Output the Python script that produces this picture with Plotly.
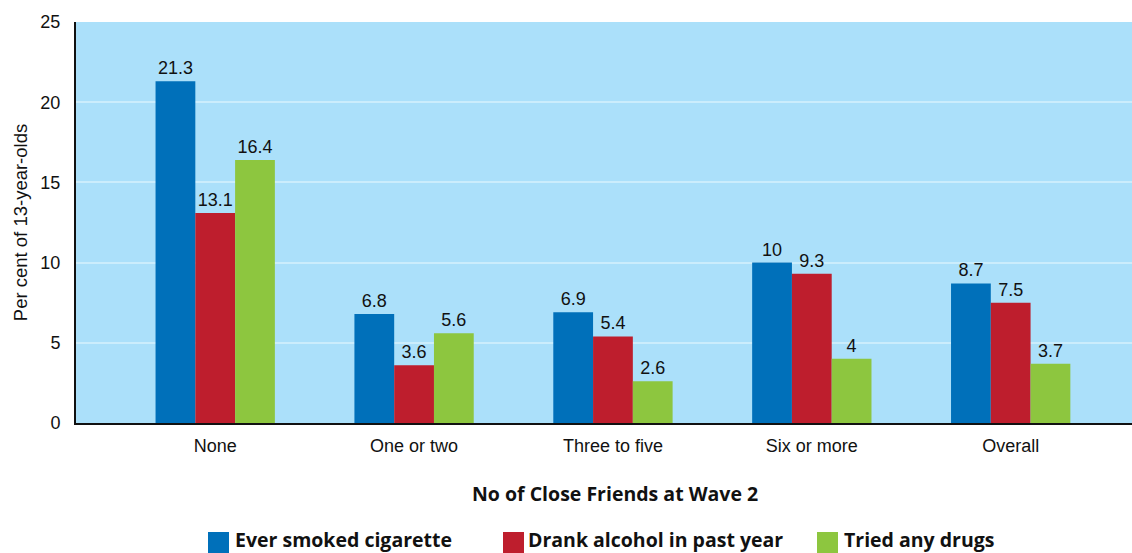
import plotly.graph_objects as go

categories = ["None", "One or two", "Three to five", "Six or more", "Overall"]
smoked = [21.3, 6.8, 6.9, 10, 8.7]
alcohol = [13.1, 3.6, 5.4, 9.3, 7.5]
drugs = [16.4, 5.6, 2.6, 4, 3.7]
series_names = ["Ever smoked cigarette", "Drank alcohol in past year", "Tried any drugs"]
colors = ["#0070BA", "#BE1E2D", "#8DC63F"]
y_ticks = [0, 5, 10, 15, 20, 25]

fig = go.Figure()
for name, vals, col in zip(series_names, [smoked, alcohol, drugs], colors):
    fig.add_trace(go.Bar(
        x=categories, y=vals, name=name,
        marker=dict(color=col, line=dict(width=0)),
        text=[str(v) for v in vals], textposition="outside",
        textfont=dict(family="Liberation Sans, Arial, sans-serif", size=18, color="#111111"),
        cliponaxis=False, showlegend=False,
    ))

W, H = 1132, 553
L, R, T, B = 76, 0, 22, 130
pw, ph = W - L - R, H - T - B

def px(xp):
    return (xp - L) / pw

def py(yp):
    return (H - B - yp) / ph

shapes = []
annotations = []
legend_items = [(208, 229, 234), (503, 524, 527), (817, 838, 843)]
for (x0, x1, tx), name, col in zip(legend_items, series_names, colors):
    shapes.append(dict(type="rect", xref="paper", yref="paper",
                       x0=px(x0), x1=px(x1), y0=py(553), y1=py(532),
                       fillcolor=col, line=dict(width=0)))
    annotations.append(dict(text="<b>" + name + "</b>", xref="paper", yref="paper",
                            x=px(tx), y=py(554), xanchor="left", yanchor="bottom",
                            showarrow=False, borderpad=0,
                            font=dict(family="Open Sans, sans-serif", size=19.5, color="#111111")))

annotations.append(dict(text="<b>No of Close Friends at Wave 2</b>", xref="paper", yref="paper",
                        x=px(615), y=py(493), xanchor="center", yanchor="middle",
                        showarrow=False,
                        font=dict(family="Open Sans, sans-serif", size=19.5, color="#111111")))

fig.update_layout(
    width=W, height=H,
    margin=dict(l=L, r=R, t=T, b=B),
    paper_bgcolor="white", plot_bgcolor="#ABE0FA",
    barmode="group", bargap=0.4, bargroupgap=0,
    shapes=shapes, annotations=annotations,
    showlegend=False,
    font=dict(family="Liberation Sans, Arial, sans-serif", color="#111111"),
)
fig.update_xaxes(
    range=[-0.7, 4.61], showgrid=False,
    showline=True, linecolor="#111111", linewidth=2,
    ticks="", tickfont=dict(size=18), ticklabelstandoff=5,
)
fig.update_yaxes(
    range=[0, 25], tickvals=y_ticks, showgrid=True, gridcolor="#CBEDFC", gridwidth=2,
    zeroline=False, showline=True, linecolor="#111111", linewidth=2,
    ticks="", tickfont=dict(size=18), ticklabelstandoff=10,
    title=dict(text="Per cent of 13-year-olds", font=dict(size=18.5), standoff=8),
)
fig.write_html("out.html")
